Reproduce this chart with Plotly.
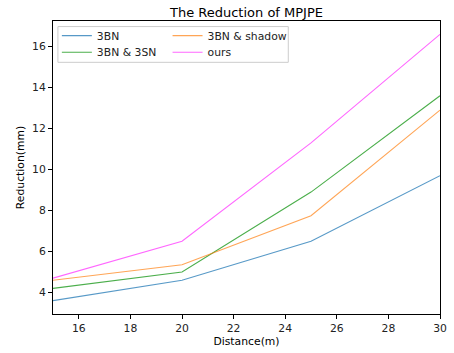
import plotly.graph_objects as go

distance = [15, 20, 25, 30]
bn3 = [3.6, 4.6, 6.5, 9.7]
bn3_sn3 = [4.2, 5.0, 8.9, 13.6]
bn3_shadow = [4.6, 5.35, 7.75, 12.9]
ours = [4.7, 6.5, 11.3, 16.6]

# name, values, colour, legend id, legend x (paper), legend y (paper)
series = [
    ("3BN", bn3, "rgba(31,119,180,0.75)", "legend", 0.010, 0.950),
    ("3BN & 3SN", bn3_sn3, "rgba(44,160,44,0.85)", "legend2", 0.010, 0.8935),
    ("3BN & shadow", bn3_shadow, "rgba(255,127,14,0.7)", "legend3", 0.296, 0.950),
    ("ours", ours, "rgba(255,0,255,0.6)", "legend4", 0.296, 0.8935),
]

font = "DejaVu Sans"
fs = 10.8
fig = go.Figure()
legends = {}
for name, vals, color, lg, lx, ly in series:
    fig.add_trace(go.Scatter(x=distance, y=vals, mode="lines", name=name,
                             line=dict(color=color, width=1.1), legend=lg))
    legends[lg] = dict(orientation="h", x=lx, y=ly, xanchor="left", yanchor="middle",
                       bgcolor="rgba(0,0,0,0)", borderwidth=0,
                       font=dict(family=font, size=fs, color="#222"), itemwidth=30)

axis_common = dict(showline=True, linecolor="black", linewidth=1, mirror=True,
                   ticks="outside", ticklen=4, tickcolor="black", showgrid=False,
                   zeroline=False, tickfont=dict(family=font, size=fs, color="#222"))
fig.update_layout(
    width=454, height=353,
    margin=dict(l=53, r=7, t=21, b=38),
    paper_bgcolor="white", plot_bgcolor="white",
    title=dict(text="The Reduction of MPJPE", x=0.5, xanchor="center", xref="paper",
               y=1, yref="paper", yanchor="bottom", pad=dict(b=4),
               font=dict(family=font, size=13, color="black")),
    xaxis=dict(range=[15, 30], dtick=2, tick0=16, ticklabeloverflow="allow",
               title=dict(text="Distance(m)", font=dict(family=font, size=fs, color="black"), standoff=3),
               **axis_common),
    yaxis=dict(range=[2.95, 17.25], dtick=2, tick0=4,
               title=dict(text="Reduction(mm)", font=dict(family=font, size=fs, color="black"), standoff=5),
               **axis_common),
    showlegend=True,
    shapes=[dict(type="rect", xref="paper", yref="paper", x0=0.0127, x1=0.608,
                 y0=0.859, y1=0.981, line=dict(color="#cccccc", width=1),
                 fillcolor="rgba(255,255,255,0.8)", layer="above")],
    **legends,
)
fig.write_html("out.html", post_script="document.body.style.margin='0';",
               config={"displayModeBar": False})
